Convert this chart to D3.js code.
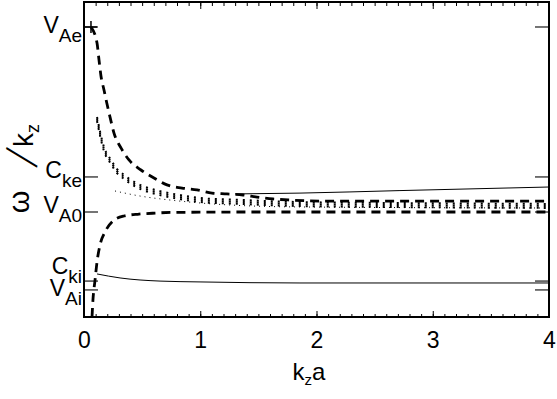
<!DOCTYPE html>
<html lang="en">
    <head>
        <meta charset="utf-8">
        <title>Phase speed vs kz a</title>
        <script src="https://d3js.org/d3.v7.min.js"></script>
        <style>
            body { margin: 0; background: #fff; }
            text { font-family: "Liberation Sans", Arial, sans-serif; fill: #000; }
        </style>
    </head>
    <body>
        <div id="dataviz"></div>
        <script>
            // values (speeds in units of V_A0)
            var kFast = [0.060, 0.112, 0.129, 0.146, 0.172, 0.198, 0.224, 0.258, 0.318, 0.387, 0.490, 0.602, 0.714, 0.843, 0.972, 1.101, 1.230, 1.368, 1.488, 1.626, 1.772, 2.03, 2.72, 4.0];
            var vFast = [1.881, 1.805, 1.724, 1.648, 1.581, 1.514, 1.452, 1.376, 1.305, 1.248, 1.200, 1.162, 1.129, 1.114, 1.105, 1.090, 1.086, 1.081, 1.071, 1.062, 1.057, 1.052, 1.052, 1.052];

            var kSlow = [0.069, 0.077, 0.095, 0.112, 0.138, 0.181, 0.249, 0.344, 0.473, 0.619, 0.748, 1.428, 4.0];
            var vSlow = [0.500, 0.581, 0.676, 0.762, 0.843, 0.905, 0.957, 0.981, 0.990, 0.995, 0.998, 1.000, 1.000];

            var kDot = [0.112, 0.172, 0.232, 0.284, 0.344, 0.404, 0.465, 0.525, 0.654, 0.826, 0.998, 1.342, 1.858, 2.718, 4.0];
            var vDot = [1.443, 1.300, 1.238, 1.195, 1.167, 1.143, 1.124, 1.110, 1.090, 1.071, 1.057, 1.048, 1.038, 1.033, 1.029];

            var kThin = [0.267, 0.482, 0.740, 0.998, 1.428, 1.858, 4.0];
            var vThin = [1.100, 1.076, 1.057, 1.043, 1.029, 1.024, 1.019];

            var kLow = [0.112, 0.310, 0.654, 0.998, 1.858, 4.0];
            var vLow = [0.705, 0.686, 0.671, 0.667, 0.662, 0.662];

            var kUp = [1.299, 1.858, 2.718, 4.0];
            var vUp = [1.086, 1.090, 1.102, 1.119];

            var xTicks = [0, 1, 2, 3, 4];
            var speedNames = ["V", "C", "V", "C", "V"];
            var speedSubs = ["Ae", "ke", "A0", "ki", "Ai"];
            var speedValues = [1.881, 1.167, 1.000, 0.671, 0.629];

            var margin = {top: 2, right: 8, bottom: 82, left: 84},
                width = 557 - margin.left - margin.right,
                height = 399 - margin.top - margin.bottom;

            var svg = d3.select("#dataviz")
                        .append("svg")
                        .attr("width", 557)
                        .attr("height", 399)
                        .append("g")
                        .attr("transform", "translate(" + margin.left + "," + margin.top + ")");

            var x = d3.scaleLinear().domain([0, 4]).range([0, width]);
            var y = d3.scaleLinear().domain([0.5, 2.0]).range([height, 0]);

            function pts(ks, vs) {
                return ks.map(function(k, i) { return [k, vs[i]]; });
            }
            var line = d3.line()
                         .x(function(d) { return x(d[0]); })
                         .y(function(d) { return y(d[1]); })
                         .curve(d3.curveMonotoneX);

            // frame ticks: bottom and top, pointing inward
            var minor = d3.range(0, 41).map(function(i) { return i / 10; });
            svg.append("g")
                .attr("transform", "translate(0," + height + ")")
                .call(d3.axisBottom(x).tickValues(minor).tickSize(-3).tickFormat(""))
                .call(function(g) { g.select(".domain").remove(); });
            svg.append("g")
                .attr("transform", "translate(0," + height + ")")
                .call(d3.axisBottom(x).tickValues(xTicks).tickSize(-6).tickPadding(15)
                        .tickFormat(d3.format("d")))
                .call(function(g) {
                    g.select(".domain").remove();
                    g.selectAll("text").style("font-size", "23px")
                     .attr("font-family", "Liberation Sans, Arial, sans-serif");
                });
            svg.append("g")
                .call(d3.axisTop(x).tickValues(minor).tickSize(-4).tickFormat(""))
                .call(function(g) { g.select(".domain").remove(); });
            svg.append("g")
                .call(d3.axisTop(x).tickValues(xTicks).tickSize(-7).tickFormat(""))
                .call(function(g) { g.select(".domain").remove(); });

            // named speed ticks on left and right
            var sp = svg.append("g");
            speedValues.forEach(function(v, i) {
                sp.append("line").attr("x1", 0).attr("x2", 14)
                  .attr("y1", y(v)).attr("y2", y(v))
                  .attr("stroke", "#666").attr("stroke-width", 1.8);
                sp.append("line").attr("x1", width - 14).attr("x2", width)
                  .attr("y1", y(v)).attr("y2", y(v))
                  .attr("stroke", "#666").attr("stroke-width", 1.8);
            });
            var labelShift = [6, 1, 1, -7, 6];
            speedValues.forEach(function(v, i) {
                var t = sp.append("text")
                          .attr("x", -2)
                          .attr("y", y(v) + labelShift[i])
                          .attr("text-anchor", "end")
                          .style("font-size", "23px");
                t.append("tspan").text(speedNames[i]);
                t.append("tspan").attr("dy", 9).style("font-size", "19px").text(speedSubs[i]);
            });

            // curves
            svg.append("path").datum(pts(kFast, vFast))
                .attr("d", line).attr("fill", "none")
                .attr("stroke", "#000").attr("stroke-width", 2.8)
                .attr("stroke-dasharray", "9,6");
            svg.append("path").datum(pts(kSlow, vSlow))
                .attr("d", line).attr("fill", "none")
                .attr("stroke", "#000").attr("stroke-width", 2.8)
                .attr("stroke-dasharray", "9,6");
            [-2, 0, 2].forEach(function(o) {
                svg.append("path").datum(pts(kDot, vDot))
                    .attr("d", line).attr("fill", "none")
                    .attr("transform", "translate(0," + o + ")")
                    .attr("stroke", "#000").attr("stroke-width", 2)
                    .attr("stroke-dasharray", "2,5");
            });
            svg.append("path").datum(pts(kThin, vThin))
                .attr("d", line).attr("fill", "none")
                .attr("stroke", "#000").attr("stroke-width", 1)
                .attr("stroke-dasharray", "1,4");
            svg.append("path").datum(pts(kLow, vLow))
                .attr("d", line).attr("fill", "none")
                .attr("stroke", "#000").attr("stroke-width", 1);
            svg.append("path").datum(pts(kUp, vUp))
                .attr("d", line).attr("fill", "none")
                .attr("stroke", "#000").attr("stroke-width", 1);

            // plus marker at the first fast point
            svg.append("path")
                .attr("transform", "translate(" + x(kFast[0]) + "," + y(vFast[0]) + ")")
                .attr("d", "M-6,0H6M0,-6V6")
                .attr("stroke", "#000").attr("stroke-width", 1.5);

            // frame
            svg.append("rect").attr("x", 0).attr("y", 0)
                .attr("width", width).attr("height", height)
                .attr("fill", "none").attr("stroke", "#000").attr("stroke-width", 2);

            // axis titles
            var xt = svg.append("text")
                .attr("x", x(2) - 24).attr("y", height + 63)
                .style("font-size", "24px");
            xt.append("tspan").text("k");
            xt.append("tspan").attr("dy", 5).style("font-size", "15px").text("z");
            xt.append("tspan").attr("dy", -5).text("a");

            var yl = svg.append("g").attr("transform", "translate(-84,-2)");
            yl.append("text")
                .attr("transform", "translate(21,202) rotate(-90)")
                .attr("text-anchor", "middle").attr("dy", "0.28em")
                .style("font-size", "29px").text("ω");
            yl.append("text")
                .attr("transform", "translate(20,157) rotate(-76)")
                .attr("text-anchor", "middle").attr("dy", "0.36em")
                .style("font-family", "DejaVu Sans").style("font-weight", "200")
                .style("font-size", "42px").text("/");
            var kz = yl.append("text")
                .attr("transform", "translate(33,147) rotate(-90)")
                .style("font-size", "28px");
            kz.append("tspan").text("k");
            kz.append("tspan").attr("dy", 6).style("font-size", "18px").text("z");
        </script>
    </body>
</html>
